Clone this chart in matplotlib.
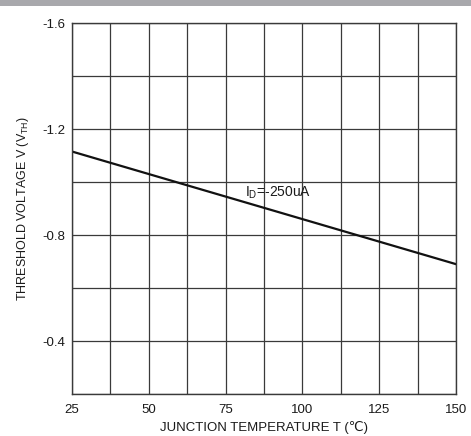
import matplotlib
matplotlib.use("Agg")
import matplotlib.pyplot as plt
from matplotlib.patches import Rectangle
import numpy as np

plt.rcParams['font.family'] = ['Liberation Sans', 'DejaVu Sans']
plt.rcParams['mathtext.fontset'] = 'custom'
plt.rcParams['mathtext.rm'] = 'Liberation Sans'
plt.rcParams['mathtext.it'] = 'Liberation Sans'

# Threshold voltage vs junction temperature, I_D = -250uA
temperature = [25, 150]
vth = [-1.115, -0.69]

x_ticks = [25, 50, 75, 100, 125, 150]
y_ticks = [-1.6, -1.2, -0.8, -0.4]
x_grid = np.arange(25, 150.1, 12.5)
y_grid = [-1.6, -1.4, -1.2, -1.0, -0.8, -0.6, -0.4, -0.2]

fig = plt.figure(figsize=(4.71, 4.36), dpi=100)
fig.patches.append(Rectangle((0, 1 - 6 / 436), 1, 6 / 436, transform=fig.transFigure,
                             facecolor='#a8a8ac', edgecolor='none'))
ax = fig.add_axes([72 / 471, 1 - 394 / 436, (456 - 72) / 471, (394 - 23) / 436])

ax.set_xlim(25, 150)
ax.set_ylim(-0.2, -1.6)

ax.set_xticks(x_ticks)
ax.set_xticklabels([str(t) for t in x_ticks])
ax.set_yticks(y_ticks)
ax.set_yticklabels([f"{t:.1f}" for t in y_ticks])
ax.set_xticks(x_grid, minor=True)
ax.set_yticks(y_grid, minor=True)
ax.tick_params(which='both', length=0, labelsize=9.5, colors='#1a1a1a')
ax.tick_params(axis='x', pad=7)
ax.tick_params(axis='y', pad=5)
ax.grid(which='both', color='#3a3a3a', linewidth=0.9)
for s in ax.spines.values():
    s.set_color('#3a3a3a')
    s.set_linewidth(1.0)

ax.plot(temperature, vth, color='#111111', linewidth=1.6)

ax.text(81.3, -0.945, r"I$_{\mathrm{D}}$=-250uA", fontsize=10, color='#1a1a1a',
        ha='left', va='baseline')

ax.set_xlabel("JUNCTION TEMPERATURE T (℃)", fontsize=9.5, color='#1a1a1a', labelpad=4)
ax.set_ylabel(r"THRESHOLD VOLTAGE V (V$_{\mathrm{TH}}$)", fontsize=9, color='#1a1a1a', labelpad=8)

fig.savefig("out.png", dpi=100)
